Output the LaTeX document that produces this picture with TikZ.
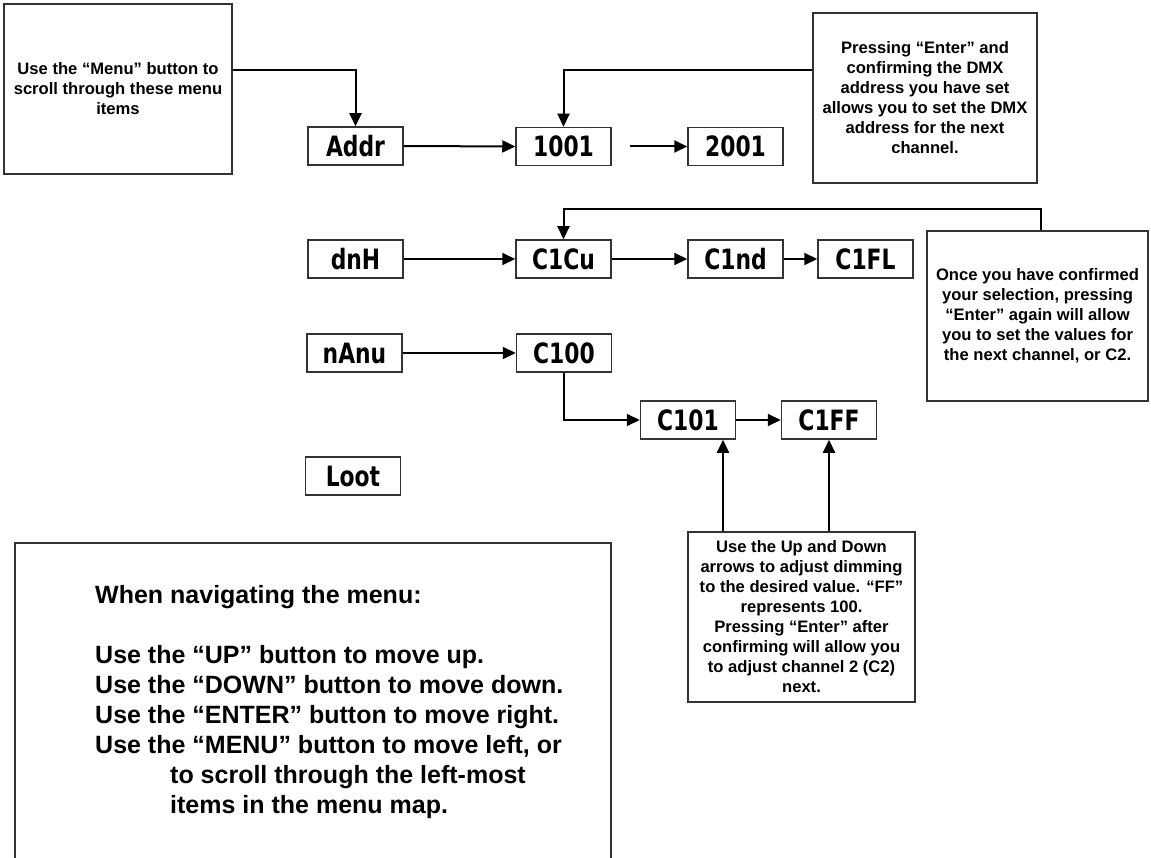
\documentclass[tikz,border=0pt]{standalone}
\usepackage{fontspec}
\setmainfont{Liberation Sans}
\newfontfamily\segfont[FakeStretch=0.78]{DejaVu Sans}
\usetikzlibrary{arrows.meta}
\begin{document}
\begin{tikzpicture}[x=1pt,y=-1pt,
 conn/.style={line width=2pt},
 arr/.style={conn,-{Triangle[length=13pt,width=12pt]}},
 disp/.style={draw=black!80, line width=1.5pt, minimum width=95pt, minimum height=38pt, inner sep=0pt,
   font=\segfont\bfseries\fontsize{28}{28}\selectfont},
 note/.style={draw=black!80, line width=1.5pt, inner sep=0pt, align=center,
   font=\bfseries\fontsize{16.6}{20}\selectfont},
 big/.style={anchor=base west, inner sep=0pt, font=\bfseries\fontsize{25}{30}\selectfont}]
\fill[white] (0,0) rectangle (1151,858);
\useasboundingbox (0,0) rectangle (1151,858);

% notes
\node[note, minimum width=228pt, minimum height=170pt] (note1) at (118,89)
  {Use the “Menu” button to\\scroll through these menu\\items};
\node[note, minimum width=224pt, minimum height=170pt] (note2) at (925,98)
  {Pressing “Enter” and\\confirming the DMX\\address you have set\\allows you to set the DMX\\address for the next\\channel.};
\node[note, minimum width=221pt, minimum height=170pt] (note3) at (1037.5,316)
  {Once you have confirmed\\your selection, pressing\\“Enter” again will allow\\you to set the values for\\the next channel, or C2.};
\node[note, minimum width=227pt, minimum height=170pt] (note4) at (801.5,617)
  {Use the Up and Down\\arrows to adjust dimming\\to the desired value. “FF”\\represents 100.\\Pressing “Enter” after\\confirming will allow you\\to adjust channel 2 (C2)\\next.};

% display boxes
\node[disp] (addr) at (355.5,146) {Addr};
\node[disp] (a1001) at (563.5,146.5) {1001};
\node[disp] (a2001) at (735.5,146.5) {2001};
\node[disp] (dnh) at (355.5,259) {dnH};
\node[disp] (c1cu) at (563.5,259) {C1Cu};
\node[disp] (c1nd) at (735.5,259) {C1nd};
\node[disp] (c1fl) at (865.5,259) {C1FL};
\node[disp] (nanu) at (354.5,353) {nAnu};
\node[disp] (c100) at (564,353) {C100};
\node[disp] (c101) at (688,420) {C101};
\node[disp] (c1ff) at (829,420) {C1FF};
\node[disp] (loot) at (353,476) {Loot};

% big bottom box (runs off the bottom)
\draw[draw=black!80, line width=1.5pt] (15,860) -- (15,543) -- (611,543) -- (611,860);
\node[big] (b1) at (95,603) {When navigating the menu:};
\node[big] (b2) at (95,663) {Use the “UP” button to move up.};
\node[big] (b3) at (95,693) {Use the “DOWN” button to move down.};
\node[big] (b4) at (95,723) {Use the “ENTER” button to move right.};
\node[big] (b5) at (95,753) {Use the “MENU” button to move left, or};
\node[big] (b6) at (170,783) {to scroll through the left-most};
\node[big] (b7) at (170,813) {items in the menu map.};

% connectors
\draw[arr] ([yshift=19pt]note1.east) -| (addr.north);
\draw[arr] ([yshift=28pt]note2.west) -| (a1001.north);
\draw[arr] (addr.east) -- (a1001.west);
\draw[arr] ([xshift=18pt]a1001.east) -- (a2001.west);

\draw[arr] ([xshift=3.5pt]note3.north) -- ++(0,-21) -| (c1cu.north);
\draw[arr] (dnh.east) -- (c1cu.west);
\draw[arr] (c1cu.east) -- (c1nd.west);
\draw[arr] (c1nd.east) -- (c1fl.west);

\draw[arr] (nanu.east) -- (c100.west);
\draw[arr] (c100.south) |- (c101.west);
\draw[arr] (c101.east) -- (c1ff.west);
\draw[arr] ([xshift=35pt]c101.south |- note4.north) -- ([xshift=35pt]c101.south);
\draw[arr] (c1ff.south |- note4.north) -- (c1ff.south);
\end{tikzpicture}
\end{document}
